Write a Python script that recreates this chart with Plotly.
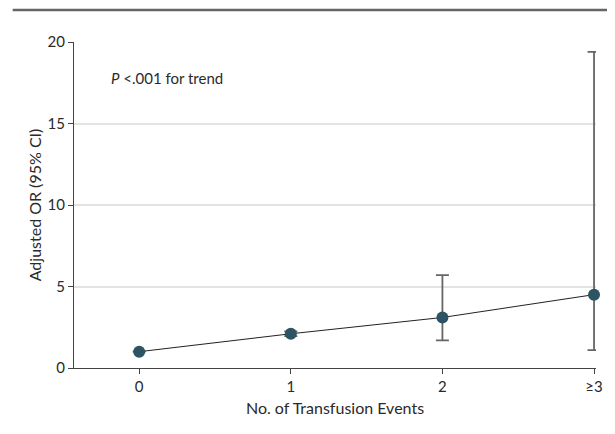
import plotly.graph_objects as go

categories = ["0", "1", "2", "≥3"]
odds_ratio = [1.0, 2.1, 3.1, 4.5]
ci_lower = [1.0, 1.95, 1.7, 1.1]
ci_upper = [1.0, 2.25, 5.7, 19.4]
y_ticks = [0, 5, 10, 15, 20]

FONT = "Lato, Roboto, sans-serif"
xpos = list(range(len(categories)))

fig = go.Figure()
fig.add_trace(go.Scatter(
    x=xpos, y=odds_ratio, mode="lines+markers",
    line=dict(color="#222222", width=1),
    marker=dict(color="#2c5465", size=12),
    error_y=dict(type="data", symmetric=False,
                 array=[u - v for u, v in zip(ci_upper, odds_ratio)],
                 arrayminus=[v - l for v, l in zip(odds_ratio, ci_lower)],
                 color="#666666", thickness=1.8, width=6.5),
    showlegend=False,
    cliponaxis=False,
))

# page has 8px body margin -> compensate
fig.update_layout(
    width=607, height=426,
    margin=dict(l=66, r=13, t=34, b=66),
    plot_bgcolor="white", paper_bgcolor="white",
    font=dict(family=FONT, size=15, color="#2a2a2a"),
    xaxis=dict(range=[-0.43, 3.013], tickvals=xpos, ticktext=categories,
               showgrid=False, showline=True, linecolor="#444444", linewidth=1,
               ticks="outside", ticklen=5, tickcolor="#444444",
               tickfont=dict(size=15),
               title=dict(text="No. of Transfusion Events", standoff=8, font=dict(size=16)),
               zeroline=False),
    yaxis=dict(range=[0, 20], tickvals=y_ticks,
               showgrid=True, gridcolor="#e3e3e3", gridwidth=1.5,
               showline=True, linecolor="#444444", linewidth=1,
               ticks="outside", ticklen=5, tickcolor="#444444",
               tickfont=dict(size=15),
               title=dict(text="Adjusted OR (95% CI)", standoff=1, font=dict(size=16)),
               zeroline=False),
    shapes=[dict(type="line", xref="paper", yref="paper",
                 x0=-0.1175, x1=1.026, y0=1.0 + 32 / 326, y1=1.0 + 32 / 326,
                 line=dict(color="#666666", width=2.5))],
    annotations=[dict(text="<i>P</i> <.001 for trend", xref="paper", yref="paper",
                      x=0.068, y=0.89, xanchor="left", yanchor="middle",
                      showarrow=False, font=dict(size=15))],
)

fig.write_html("out.html")
